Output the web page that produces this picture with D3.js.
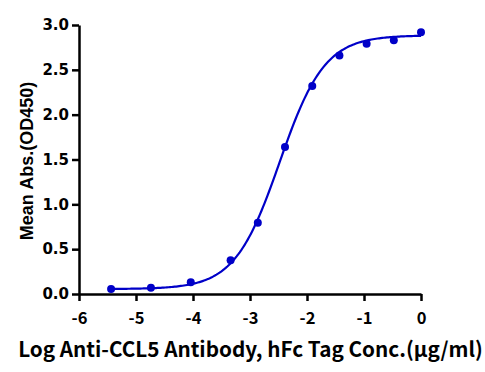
<!DOCTYPE html>
<html>
<head>
<meta charset="utf-8">
<script src="https://cdn.jsdelivr.net/npm/d3@7"></script>
<style>
  html, body { margin: 0; padding: 0; background: #fff; }
  svg { display: block; }
</style>
</head>
<body>
<svg id="chart" width="485" height="372"></svg>
<script>
// log10 concentration (µg/ml), 5-fold and 3-fold dilution series
const logConc = [-5.437, -4.738, -4.039, -3.340, -2.863, -2.386, -1.908, -1.431, -0.954, -0.477, 0];
// mean absorbance at 450 nm
const meanAbs = [0.056, 0.070, 0.130, 0.376, 0.795, 1.640, 2.320, 2.660, 2.790, 2.830, 2.920];
// four-parameter logistic fit: bottom, top, logEC50, hill slope
const fitParams = [0.055, 2.885, -2.48, 1.1];
const xTicks = [-6, -5, -4, -3, -2, -1, 0];
const yTicks = [0.0, 0.5, 1.0, 1.5, 2.0, 2.5, 3.0];

const svg = d3.select("#chart");
const color = "#0000c8";

const x = d3.scaleLinear().domain([-6, 0]).range([79, 421]);
const y = d3.scaleLinear().domain([0, 3]).range([294, 25]);

// fitted curve
const [fitBottom, fitTop, logEC50, hill] = fitParams;
const fit = v => fitBottom + (fitTop - fitBottom) / (1 + Math.pow(10, (logEC50 - v) * hill));
const curveX = d3.range(0, 201).map(i => logConc[0] + (0 - logConc[0]) * i / 200);

svg.append("path")
  .datum(curveX)
  .attr("fill", "none")
  .attr("stroke", color)
  .attr("stroke-width", 2.2)
  .attr("d", d3.line().x(d => x(d)).y(d => y(fit(d))));

svg.selectAll("circle.pt")
  .data(logConc)
  .enter().append("circle")
  .attr("class", "pt")
  .attr("cx", d => x(d))
  .attr("cy", (d, i) => y(meanAbs[i]))
  .attr("r", 4)
  .attr("fill", color);

// axes
const xAxis = svg.append("g")
  .attr("transform", "translate(0,294)")
  .call(d3.axisBottom(x).tickValues(xTicks).tickFormat(d3.format("d")).tickSize(7).tickSizeOuter(0));

const yAxis = svg.append("g")
  .attr("transform", "translate(79,0)")
  .call(d3.axisLeft(y).tickValues(yTicks).tickFormat(d3.format(".1f")).tickSize(7).tickSizeOuter(0));

[xAxis, yAxis].forEach(g => {
  g.select(".domain").attr("stroke", "#000").attr("stroke-width", 2.5);
  g.selectAll(".tick line").attr("stroke", "#000").attr("stroke-width", 2.5);
  g.selectAll(".tick text").attr("fill", "#000");
});
xAxis.selectAll(".tick text")
  .style("font", "bold 16.5px 'Noto Sans CJK SC', 'Noto Sans', sans-serif")
  .attr("y", 0).attr("dy", 0)
  .attr("transform", "translate(0,30)")
  .text(d => d < 0 ? "-" + Math.abs(d) : d);
yAxis.selectAll(".tick text")
  .style("font", "bold 15px 'DejaVu Sans', sans-serif")
  .attr("x", -10);

// axis titles
svg.append("text")
  .attr("x", 250.5)
  .attr("y", 357)
  .attr("text-anchor", "middle")
  .style("font", "bold 20.7px 'Noto Sans CJK SC', 'Noto Sans', sans-serif")
  .attr("fill", "#000")
  .text("Log Anti-CCL5 Antibody, hFc Tag Conc.(µg/ml)");

svg.append("text")
  .attr("transform", "translate(33,161) rotate(-90)")
  .attr("text-anchor", "middle")
  .style("font", "bold 18px 'Liberation Sans', Arial, sans-serif")
  .attr("fill", "#000")
  .text("Mean Abs.(OD450)");
</script>
</body>
</html>
